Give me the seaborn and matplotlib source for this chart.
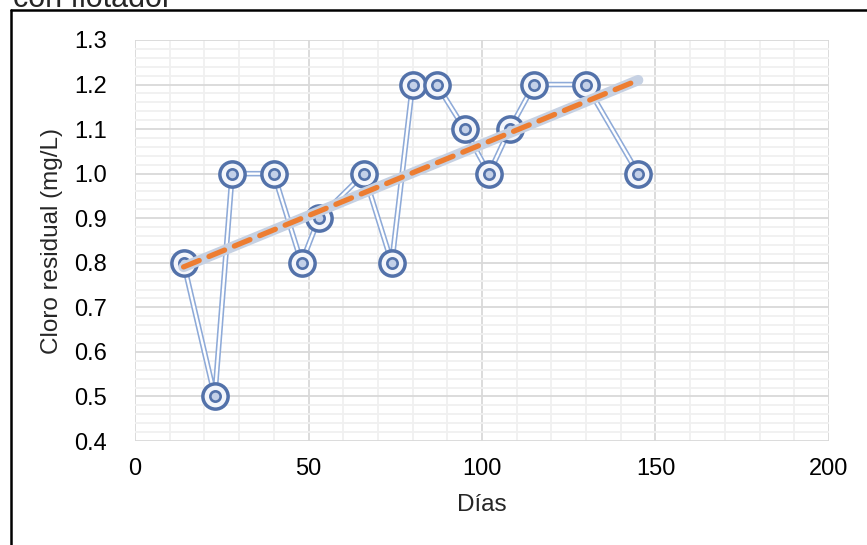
import numpy as np
import pandas as pd
import matplotlib
matplotlib.use("Agg")
import matplotlib.pyplot as plt
from matplotlib.lines import Line2D
from matplotlib.ticker import MultipleLocator
import seaborn as sns

# Residual chlorine readings over time
dias = [14, 23, 28, 40, 48, 53, 66, 74, 80, 87, 95, 102, 108, 115, 130, 145]
cloro = [0.8, 0.5, 1.0, 1.0, 0.8, 0.9, 1.0, 0.8, 1.2, 1.2, 1.1, 1.0, 1.1, 1.2, 1.2, 1.0]
x_ticks = [0, 50, 100, 150, 200]
y_ticks = [0.4, 0.5, 0.6, 0.7, 0.8, 0.9, 1.0, 1.1, 1.2, 1.3]

df = pd.DataFrame({"Días": dias, "Cloro": cloro})

sns.set_theme(style="white")
plt.rcParams["font.family"] = ["Liberation Sans", "DejaVu Sans"]

W, H = 867, 545
fig = plt.figure(figsize=(W / 100, H / 100), dpi=100)
ax = fig.add_axes([135 / W, 1 - 441 / H, (829 - 135) / W, (441 - 40) / H])

line_blue = "#8eaad8"
mark_blue = "#5372aa"

# double-stroke connecting line
sns.lineplot(data=df, x="Días", y="Cloro", ax=ax, color=line_blue, lw=4.0,
             sort=False, zorder=3)
sns.lineplot(data=df, x="Días", y="Cloro", ax=ax, color="white", lw=1.7,
             sort=False, zorder=3.1)

# concentric ring markers
sns.scatterplot(data=df, x="Días", y="Cloro", ax=ax, s=330, marker="o",
                facecolor="#f4f6fb", edgecolor=mark_blue, linewidth=2.5, zorder=4)
sns.scatterplot(data=df, x="Días", y="Cloro", ax=ax, s=55, marker="o",
                facecolor="#c3d0e8", edgecolor=mark_blue, linewidth=1.9, zorder=4.1)

# linear trend with soft halo
sns.regplot(data=df, x="Días", y="Cloro", ax=ax, scatter=False, ci=None,
            truncate=True, line_kws=dict(color="#c6d1e3", lw=7.5,
                                         solid_capstyle="round", zorder=5))
sns.regplot(data=df, x="Días", y="Cloro", ax=ax, scatter=False, ci=None,
            truncate=True, line_kws=dict(color="#ed7d31", lw=3.8, ls=(0, (3.2, 2.0)),
                                         dash_capstyle="round", zorder=5.1))

ax.set_xlim(0, 200)
ax.set_ylim(0.4, 1.3)
ax.set_xticks(x_ticks)
ax.set_yticks(y_ticks)
ax.set_xticklabels([str(v) for v in x_ticks])
ax.set_yticklabels([f"{v:.1f}" for v in y_ticks])
ax.xaxis.set_minor_locator(MultipleLocator(10))
ax.yaxis.set_minor_locator(MultipleLocator(0.02))
ax.grid(which="minor", color="#f0f0f0", lw=1.3, zorder=0)
ax.grid(which="major", color="#d9d9d9", lw=1.3, zorder=0.5)
ax.set_axisbelow(True)
for s in ax.spines.values():
    s.set_visible(False)
ax.tick_params(axis="both", which="both", length=0, labelsize=17,
               colors="black")
ax.tick_params(axis="x", pad=12)
ax.tick_params(axis="y", pad=20)

ax.set_xlabel("Días", fontsize=17.5, labelpad=10)
ax.set_ylabel("Cloro residual (mg/L)", fontsize=17.5, labelpad=8)

# outer chart frame
fig.add_artist(Line2D([11 / W, 11 / W], [0, 1 - 10 / H], color="black", lw=1.8,
                      transform=fig.transFigure))
fig.add_artist(Line2D([11 / W, 1], [1 - 10 / H, 1 - 10 / H], color="black", lw=1.8,
                      transform=fig.transFigure))
fig.text(13 / W, 1 - 7 / H, "con flotador", fontsize=22, ha="left", va="baseline")

fig.savefig("out.png", dpi=100, facecolor="white")
